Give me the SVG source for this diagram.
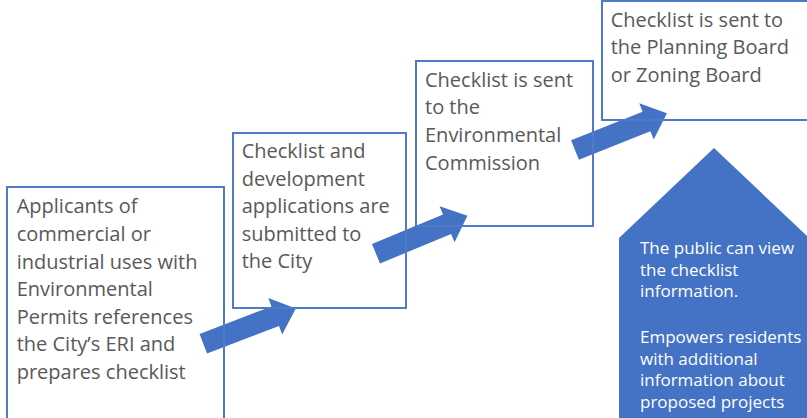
<svg xmlns="http://www.w3.org/2000/svg" width="807" height="418" viewBox="0 0 807 418">
<defs>
<style>
.box{fill:none;stroke:#4F7AC7;stroke-width:2}
.t{font-family:"Open Sans","Liberation Sans",sans-serif;font-size:20px;fill:#595959}
.w{font-family:"Open Sans","Liberation Sans",sans-serif;font-size:17px;fill:#ffffff}
.arrow{fill:#4472C4}
</style>
<path id="blockArrow" d="M0,-10.5 L77,-10.5 L77,-19.5 L99,0 L77,19.5 L77,10.5 L0,10.5 Z"/>
</defs>
<rect width="807" height="418" fill="#ffffff"/>
<g id="connectors">
<use href="#blockArrow" class="arrow" transform="translate(203.3,343.7) rotate(-20.9)"/>
<use href="#blockArrow" class="arrow" transform="translate(376,253.8) rotate(-22.6)"/>
<use href="#blockArrow" class="arrow" transform="translate(575,150) rotate(-21.8)"/>
</g>
<g id="node1">
<rect class="box" x="7" y="187" width="217" height="240"/>
<text class="t"><tspan x="16.7" y="213.3">Applicants of</tspan><tspan x="16.7" y="241">commercial or</tspan><tspan x="16.7" y="268.6">industrial uses with</tspan><tspan x="16.7" y="296.2">Environmental</tspan><tspan x="16.7" y="323.8">Permits references</tspan><tspan x="16.7" y="351.4">the City’s ERI and</tspan><tspan x="16.7" y="379">prepares checklist</tspan></text>
</g>
<g id="node2">
<rect class="box" x="233" y="133" width="173" height="175"/>
<text class="t"><tspan x="241.7" y="158.3">Checklist and</tspan><tspan x="241.7" y="185.8">development</tspan><tspan x="241.7" y="213.3">applications are</tspan><tspan x="241.7" y="240.8">submitted to</tspan><tspan x="241.7" y="268.3">the City</tspan></text>
</g>
<g id="node3">
<rect class="box" x="416" y="61" width="177" height="165"/>
<text class="t"><tspan x="425" y="86.7">Checklist is sent</tspan><tspan x="425" y="114.3">to the</tspan><tspan x="425" y="141.9">Environmental</tspan><tspan x="425" y="169.5">Commission</tspan></text>
</g>
<g id="node4">
<rect class="box" x="602" y="1" width="215" height="119"/>
<text class="t"><tspan x="610.7" y="26.7">Checklist is sent to</tspan><tspan x="610.7" y="54.3">the Planning Board</tspan><tspan x="610.7" y="81.9">or Zoning Board</tspan></text>
</g>
<g id="node5">
<polygon points="714,148 809,238 809,420 619,420 619,238" fill="#4472C4"/>
<text class="w"><tspan x="640" y="254">The public can view</tspan><tspan x="640" y="275.5">the checklist</tspan><tspan x="640" y="297">information.</tspan><tspan x="640" y="343">Empowers residents</tspan><tspan x="640" y="364.5">with additional</tspan><tspan x="640" y="386">information about</tspan><tspan x="640" y="407.5">proposed projects</tspan></text>
</g>
</svg>
